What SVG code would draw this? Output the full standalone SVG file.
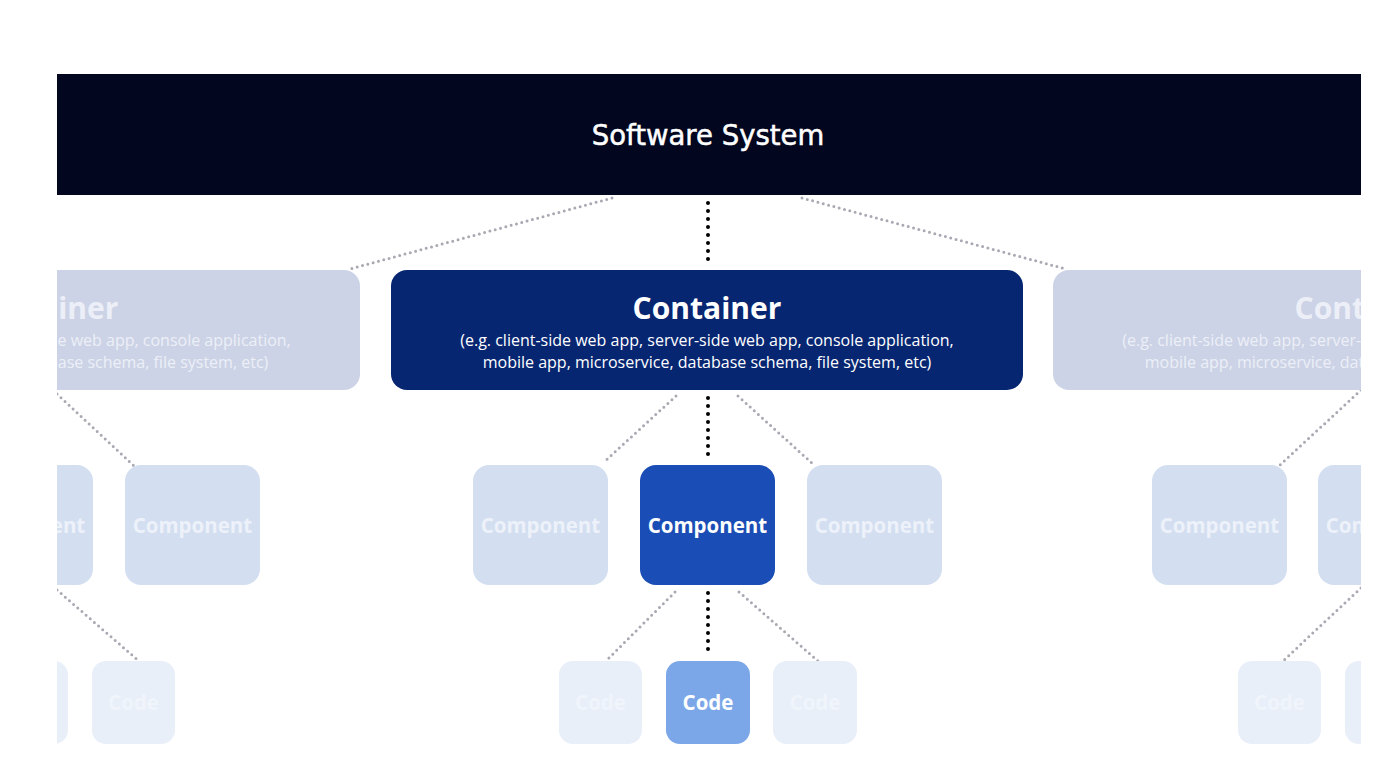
<svg xmlns="http://www.w3.org/2000/svg" width="1400" height="765" viewBox="0 0 1400 765">
<style>
.t{font-family:"Open Sans","Liberation Sans",sans-serif;text-anchor:middle;fill:#ffffff}
.sys{font-family:"DejaVu Sans","Liberation Sans",sans-serif;font-size:27.5px;fill:#ffffff;text-anchor:middle;stroke:#ffffff;stroke-width:0.5}
.ttl{font-size:30px;font-weight:700}
.sub{font-size:16px}
.cmp{font-size:20.5px;font-weight:700}
.cod{font-size:20.5px;font-weight:700}
.fadedtxt{fill:#f2f5fb;opacity:0.85}
.fadedcode{fill:#f4f7fc;opacity:0.7}
.cont-dim{fill:#cdd3e6}
.comp-dim{fill:#d3dff1}
.code-dim{fill:#e9eff9}
.blk{stroke:#000;stroke-width:4;stroke-linecap:round;stroke-dasharray:0 8;fill:none}
.gry{stroke:#a9a9b3;stroke-width:3;stroke-linecap:round;stroke-dasharray:0 5.5;fill:none}
</style>
<defs>
<clipPath id="frame"><rect x="57" y="0" width="1304" height="765"/></clipPath>
</defs>
<rect width="1400" height="765" fill="#ffffff"/>
<g clip-path="url(#frame)">
<g id="connectors">
<line class="blk" x1="708" y1="203" x2="708" y2="264"/>
<line class="gry" x1="612" y1="198" x2="350" y2="269"/>
<line class="gry" x1="802" y1="198" x2="1066" y2="269"/>
<line class="blk" x1="708" y1="398" x2="708" y2="459"/>
<line class="gry" x1="676" y1="396" x2="604" y2="462"/>
<line class="gry" x1="738" y1="396" x2="814" y2="465"/>
<line class="blk" x1="708" y1="593" x2="708" y2="657"/>
<line class="gry" x1="675" y1="592" x2="606" y2="661"/>
<line class="gry" x1="739" y1="592" x2="818" y2="661"/>
<line class="gry" x1="57" y1="394" x2="134" y2="466"/>
<line class="gry" x1="57" y1="590" x2="140" y2="662"/>
<line class="gry" x1="1361" y1="390" x2="1280" y2="465"/>
<line class="gry" x1="1361" y1="588" x2="1283" y2="661"/>
</g>
<g id="software-system">
<rect x="57" y="74" width="1304" height="121" fill="#02061e"/>
<text class="sys" x="708" y="145">Software System</text>
</g>
<g id="container-left">
<rect class="cont-dim" x="-272" y="270" width="632" height="120" rx="16"/>
<text class="t ttl fadedtxt" x="44" y="319">Container</text>
<text class="t sub fadedtxt" x="44" y="346">(e.g. client-side web app, server-side web app, console application,</text>
<text class="t sub fadedtxt" x="44" y="368">mobile app, microservice, database schema, file system, etc)</text>
</g>
<g id="container-main">
<rect x="391" y="270" width="632" height="120" rx="16" fill="#072672"/>
<text class="t ttl" x="707" y="319">Container</text>
<text class="t sub" x="707" y="346" fill="#e6ebf7">(e.g. client-side web app, server-side web app, console application,</text>
<text class="t sub" x="707" y="368" fill="#e6ebf7">mobile app, microservice, database schema, file system, etc)</text>
</g>
<g id="container-right">
<rect class="cont-dim" x="1053" y="270" width="632" height="120" rx="16"/>
<text class="t ttl fadedtxt" x="1369" y="319">Container</text>
<text class="t sub fadedtxt" x="1369" y="346">(e.g. client-side web app, server-side web app, console application,</text>
<text class="t sub fadedtxt" x="1369" y="368">mobile app, microservice, database schema, file system, etc)</text>
</g>
<g id="component-l1">
<rect class="comp-dim" x="-42" y="465" width="135" height="120" rx="16"/>
<text class="t cmp fadedtxt" x="25.5" y="533">Component</text>
</g>
<g id="component-l2">
<rect class="comp-dim" x="125" y="465" width="135" height="120" rx="16"/>
<text class="t cmp fadedtxt" x="192.5" y="533">Component</text>
</g>
<g id="component-c1">
<rect class="comp-dim" x="473" y="465" width="135" height="120" rx="16"/>
<text class="t cmp fadedtxt" x="540.5" y="533">Component</text>
</g>
<g id="component-main">
<rect x="640" y="465" width="135" height="120" rx="16" fill="#1a4db5"/>
<text class="t cmp" x="707.5" y="533">Component</text>
</g>
<g id="component-c3">
<rect class="comp-dim" x="807" y="465" width="135" height="120" rx="16"/>
<text class="t cmp fadedtxt" x="874.5" y="533">Component</text>
</g>
<g id="component-r1">
<rect class="comp-dim" x="1152" y="465" width="135" height="120" rx="16"/>
<text class="t cmp fadedtxt" x="1219.5" y="533">Component</text>
</g>
<g id="component-r2">
<rect class="comp-dim" x="1318" y="465" width="135" height="120" rx="16"/>
<text class="t cmp fadedtxt" x="1385.5" y="533">Component</text>
</g>
<g id="code-l1">
<rect class="code-dim" x="-15" y="661" width="83" height="83" rx="14"/>
<text class="t cod fadedcode" x="26.5" y="710">Code</text>
</g>
<g id="code-l2">
<rect class="code-dim" x="92" y="661" width="83" height="83" rx="14"/>
<text class="t cod fadedcode" x="133.5" y="710">Code</text>
</g>
<g id="code-c1">
<rect class="code-dim" x="559" y="661" width="83" height="83" rx="14"/>
<text class="t cod fadedcode" x="600.5" y="710">Code</text>
</g>
<g id="code-main">
<rect x="666" y="661" width="84" height="83" rx="14" fill="#7ba7e8"/>
<text class="t cod" x="708" y="710">Code</text>
</g>
<g id="code-c3">
<rect class="code-dim" x="773" y="661" width="84" height="83" rx="14"/>
<text class="t cod fadedcode" x="815" y="710">Code</text>
</g>
<g id="code-r1">
<rect class="code-dim" x="1238" y="661" width="83" height="83" rx="14"/>
<text class="t cod fadedcode" x="1279.5" y="710">Code</text>
</g>
<g id="code-r2">
<rect class="code-dim" x="1345" y="661" width="83" height="83" rx="14"/>
<text class="t cod fadedcode" x="1386.5" y="710">Code</text>
</g>
</g>
</svg>
